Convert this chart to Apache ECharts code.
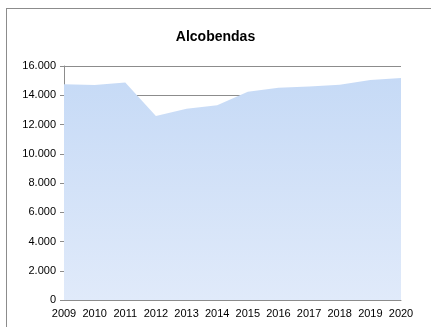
<!DOCTYPE html>
<html>
<head>
<meta charset="utf-8">
<script src="https://cdn.jsdelivr.net/npm/echarts@6/dist/echarts.min.js"></script>
<style>
  html, body { margin: 0; padding: 0; background: #ffffff; }
  #frame { position: absolute; left: 6px; top: 8px; width: 440px; height: 340px;
           border-left: 1px solid #8c8c8c; border-top: 1px solid #8c8c8c; }
  #chart { position: absolute; left: 0; top: 0; width: 431px; height: 327px; }
</style>
</head>
<body>
<div id="frame"></div>
<div id="chart"></div>
<script>
const years = ['2009', '2010', '2011', '2012', '2013', '2014', '2015', '2016', '2017', '2018', '2019', '2020'];
const values = [14750, 14700, 14880, 12580, 13080, 13310, 14240, 14520, 14590, 14720, 15040, 15180];
const yTicks = { min: 0, max: 16000, interval: 2000 };

// thousands separated with a dot, e.g. 16.000
const fmt = v => String(v).replace(/\B(?=(\d{3})+(?!\d))/g, '.');

const chart = echarts.init(document.getElementById('chart'), null, { renderer: 'canvas' });
chart.setOption({
  backgroundColor: 'transparent',
  animation: false,
  title: {
    text: 'Alcobendas',
    left: 'center',
    top: 25,
    textStyle: { fontFamily: 'Liberation Sans', fontSize: 14, fontWeight: 'bold', color: '#000' }
  },
  grid: { left: 64, right: 30, top: 66, bottom: 27 },
  xAxis: {
    type: 'category',
    data: years,
    boundaryGap: false,
    axisLine: { lineStyle: { color: '#8c8c8c' } },
    axisTick: { show: false },
    axisLabel: { color: '#000', fontFamily: 'Liberation Sans', fontSize: 11, margin: 8, interval: 0 },
    splitLine: { show: false }
  },
  yAxis: {
    type: 'value',
    min: yTicks.min,
    max: yTicks.max,
    interval: yTicks.interval,
    axisLine: { show: true, lineStyle: { color: '#8c8c8c' } },
    axisTick: { show: true, length: 4, lineStyle: { color: '#8c8c8c' } },
    axisLabel: {
      color: '#000', fontFamily: 'Liberation Sans', fontSize: 11, margin: 8,
      formatter: fmt
    },
    splitLine: { show: true, lineStyle: { color: '#8c8c8c', width: 1 } }
  },
  series: [{
    type: 'line',
    data: values,
    symbol: 'none',
    lineStyle: { width: 0 },
    z: 3,
    areaStyle: {
      opacity: 1,
      color: new echarts.graphic.LinearGradient(0, 0, 0, 1, [
        { offset: 0, color: '#c6daf6' },
        { offset: 1, color: '#e0eafa' }
      ])
    }
  }]
});
</script>
</body>
</html>
